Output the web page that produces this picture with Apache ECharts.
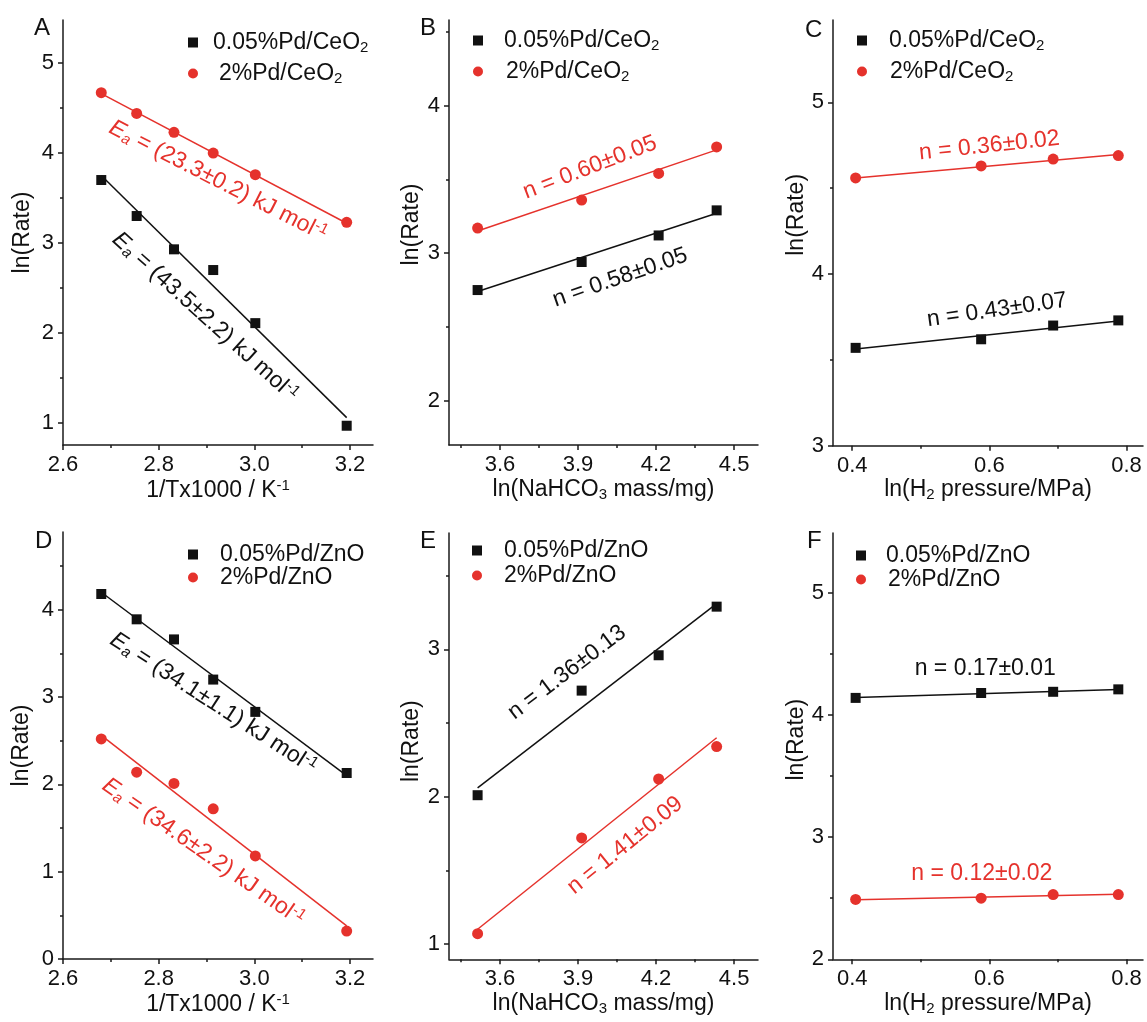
<!DOCTYPE html>
<html><head><meta charset="utf-8">
<script src="https://cdn.jsdelivr.net/npm/echarts@6/dist/echarts.min.js"></script>
<style>html,body{margin:0;padding:0;background:#fff}#c{width:1147px;height:1022px}</style>
</head><body><div id="c"></div>
<script>
// ---------------- DATA ----------------
const xInvT   = [2.680, 2.754, 2.832, 2.914, 3.002, 3.193];   // 1/T x 1000
const xNaHCO3 = [3.514, 3.914, 4.210, 4.433];                  // ln(NaHCO3 mass/mg)
const xH2     = [0.405, 0.588, 0.693, 0.788];                  // ln(H2 pressure/MPa)

const aBlack = [3.70, 3.30, 2.93, 2.70, 2.11, 0.97];
const aRed   = [4.67, 4.44, 4.23, 4.00, 3.76, 3.23];
const bBlack = [2.75, 2.94, 3.12, 3.29];
const bRed   = [3.17, 3.36, 3.54, 3.72];
const cBlack = [3.57, 3.62, 3.70, 3.73];
const cRed   = [4.56, 4.63, 4.67, 4.69];
const dBlack = [4.18, 3.89, 3.66, 3.20, 2.83, 2.13];
const dRed   = [2.52, 2.14, 2.01, 1.72, 1.18, 0.32];
const eBlack = [2.01, 2.72, 2.96, 3.29];
const eRed   = [1.07, 1.72, 2.12, 2.34];
const fBlack = [4.14, 4.18, 4.19, 4.21];
const fRed   = [2.49, 2.50, 2.53, 2.53];

// fitted lines: [y at first x, y at last x]
const aBlackFit = [3.75, 1.06], aRedFit = [4.66, 3.22];
const bBlackFit = [2.74, 3.27], bRedFit = [3.15, 3.70];
const cBlackFit = [3.563, 3.727], cRedFit = [4.559, 4.697];
const dBlackFit = [4.20, 2.10], dRedFit = [2.56, 0.38];
const eBlackFit = [2.06, 3.31], eRedFit = [1.10, 2.40];
const fBlackFit = [4.143, 4.208], fRedFit = [2.487, 2.533];

// tick labels
const xTicksInvT = [2.6, 2.8, 3.0, 3.2], xMinorInvT = [2.7, 2.9, 3.1];
const xTicksNa = [3.6, 3.9, 4.2, 4.5],   xMinorNa = [3.45, 3.75, 4.05, 4.35];
const xTicksH2 = [0.4, 0.6, 0.8],        xMinorH2 = [0.5, 0.7];
const yTicksA = [1, 2, 3, 4, 5], yMinorA = [1.5, 2.5, 3.5, 4.5];
const yTicksB = [2, 3, 4],       yMinorB = [2.5, 3.5, 4.5];
const yTicksC = [3, 4, 5],       yMinorC = [3.5, 4.5];
const yTicksD = [0, 1, 2, 3, 4], yMinorD = [0.5, 1.5, 2.5, 3.5, 4.5];
const yTicksE = [1, 2, 3],       yMinorE = [1.5, 2.5, 3.5];
const yTicksF = [2, 3, 4, 5],    yMinorF = [2.5, 3.5, 4.5];

const namesCe = ['0.05%Pd/CeO2', '2%Pd/CeO2'];
const namesZn = ['0.05%Pd/ZnO', '2%Pd/ZnO'];
const panelLetters = ['A', 'B', 'C', 'D', 'E', 'F'];

const annA = ['{ei|E}{si|a}{t| = (43.5±2.2) kJ mol}{sup|-1}', '{ei|E}{si|a}{t| = (23.3±0.2) kJ mol}{sup|-1}'];
const annB = ['{t|n = 0.58±0.05}', '{t|n = 0.60±0.05}'];
const annC = ['{t|n = 0.43±0.07}', '{t|n = 0.36±0.02}'];
const annD = ['{ei|E}{si|a}{t| = (34.1±1.1) kJ mol}{sup|-1}', '{ei|E}{si|a}{t| = (34.6±2.2) kJ mol}{sup|-1}'];
const annE = ['{t|n = 1.36±0.13}', '{t|n = 1.41±0.09}'];
const annF = ['{t|n = 0.17±0.01}', '{t|n = 0.12±0.02}'];

// ---------------- STYLE / LAYOUT ----------------
const FONT = '"Liberation Sans", Arial, sans-serif';
const BLACK = '#111111', RED = '#e5322c', AXIS = '#1a1a1a';

function makeRich(color) {
  return {
    t:   {fontFamily: FONT, fontSize: 23, lineHeight: 28, color: color},
    ei:  {fontFamily: FONT, fontSize: 23, lineHeight: 28, color: color, fontStyle: 'italic'},
    si:  {fontFamily: FONT, fontSize: 15, lineHeight: 18, padding: [10, 0, 0, 0], color: color, fontStyle: 'italic'},
    sub: {fontFamily: FONT, fontSize: 15, lineHeight: 18, padding: [10, 0, 0, 0], color: color},
    sup: {fontFamily: FONT, fontSize: 15, lineHeight: 18, padding: [0, 0, 10, 0], color: color}
  };
}

const panels = [
  {grid: {left: 63, top: 20, width: 310, height: 425}, xs: xInvT, black: aBlack, red: aRed, bf: aBlackFit, rf: aRedFit,
   x: {min: 2.6, max: 3.248, major: xTicksInvT, minor: xMinorInvT, name: '{t|1/Tx1000 / K}{sup|-1}', gap: 32},
   y: {min: 0.756, max: 5.478, major: yTicksA, minor: yMinorA, gap: 29, pad: 0},
   names: namesCe, leg: {left: 188, top: 30, gap: 6, sp: [10, 16]},
   ann: annA, annAt: [[2.897, 2.18], [2.924, 3.69]], annRot: [-42, -27], letter: [34, 16]},
  {grid: {left: 449, top: 20, width: 309, height: 425}, xs: xNaHCO3, black: bBlack, red: bRed, bf: bBlackFit, rf: bRedFit,
   x: {min: 3.404, max: 4.592, major: xTicksNa, minor: xMinorNa, name: '{t|ln(NaHCO}{sub|3}{t| mass/mg)}', gap: 31},
   y: {min: 1.70, max: 4.58, major: yTicksB, minor: yMinorB, gap: 26, pad: 16},
   names: namesCe, leg: {left: 473, top: 28, gap: 6, sp: [16, 18]},
   ann: annB, annAt: [[4.062, 2.834], [3.946, 3.58]], annRot: [19, 21], letter: [420, 16]},
  {grid: {left: 833, top: 20, width: 310, height: 425.7}, xs: xH2, black: cBlack, red: cRed, bf: cBlackFit, rf: cRedFit,
   x: {min: 0.372, max: 0.824, major: xTicksH2, minor: xMinorH2, name: '{t|ln(H}{sub|2}{t| pressure/MPa)}', gap: 28},
   y: {min: 3.0, max: 5.48, major: yTicksC, minor: yMinorC, gap: 22, pad: 36},
   names: namesCe, leg: {left: 857, top: 28, gap: 6, sp: [17, 18]},
   ann: annC, annAt: [[0.611, 3.79], [0.600, 4.747]], annRot: [8, 6], letter: [805, 18]},
  {grid: {left: 63, top: 532, width: 310, height: 427}, xs: xInvT, black: dBlack, red: dRed, bf: dBlackFit, rf: dRedFit,
   x: {min: 2.6, max: 3.248, major: xTicksInvT, minor: xMinorInvT, name: '{t|1/Tx1000 / K}{sup|-1}', gap: 32},
   y: {min: 0, max: 4.89, major: yTicksD, minor: yMinorD, gap: 30, pad: 0},
   names: namesZn, leg: {left: 188, top: 543, gap: 0, sp: [17, 17]},
   ann: annD, annAt: [[2.914, 2.93], [2.893, 1.226]], annRot: [-33, -35], letter: [35, 529]},
  {grid: {left: 449, top: 533, width: 309, height: 426.3}, xs: xNaHCO3, black: eBlack, red: eRed, bf: eBlackFit, rf: eRedFit,
   x: {min: 3.404, max: 4.592, major: xTicksNa, minor: xMinorNa, name: '{t|ln(NaHCO}{sub|3}{t| mass/mg)}', gap: 30},
   y: {min: 0.896, max: 3.79, major: yTicksE, minor: yMinorE, gap: 26, pad: 10},
   names: namesZn, leg: {left: 472, top: 539, gap: 2, sp: [17, 17]},
   ann: annE, annAt: [[3.858, 2.844], [4.081, 1.669]], annRot: [37, 39], letter: [420, 529]},
  {grid: {left: 833, top: 533, width: 310, height: 426.3}, xs: xH2, black: fBlack, red: fRed, bf: fBlackFit, rf: fRedFit,
   x: {min: 0.372, max: 0.824, major: xTicksH2, minor: xMinorH2, name: '{t|ln(H}{sub|2}{t| pressure/MPa)}', gap: 29},
   y: {min: 2.0, max: 5.49, major: yTicksF, minor: yMinorF, gap: 25, pad: 13},
   names: namesZn, leg: {left: 856, top: 544, gap: 1, sp: [15, 17]},
   ann: annF, annAt: [[0.594, 4.38], [0.589, 2.698]], annRot: [0, 0], letter: [807, 529]}
];

const grids = [], xAxes = [], yAxes = [], series = [], legends = [], graphics = [];
const lineSt = {color: AXIS, width: 1.5};

panels.forEach((p, i) => {
  grids.push(Object.assign({outerBoundsMode: 'none', containLabel: false}, p.grid));
  // major x
  xAxes.push({
    type: 'value', gridIndex: i, min: p.x.min, max: p.x.max, position: 'bottom',
    axisLine: {show: true, onZero: false, lineStyle: lineSt},
    axisTick: {show: true, inside: false, length: 5, customValues: p.x.major, lineStyle: lineSt},
    axisLabel: {show: true, customValues: p.x.major, margin: 9, fontFamily: FONT, fontSize: 22, color: BLACK,
                formatter: v => Number(v).toFixed(1), hideOverlap: false, showMinLabel: true, showMaxLabel: true},
    splitLine: {show: false},
    name: p.x.name, nameLocation: 'middle', nameGap: p.x.gap,
    nameTextStyle: {rich: makeRich(BLACK), fontSize: 23, fontFamily: FONT, color: BLACK}
  });
  // minor x
  xAxes.push({
    type: 'value', gridIndex: i, min: p.x.min, max: p.x.max, position: 'bottom',
    axisLine: {show: false, onZero: false},
    axisTick: {show: true, inside: false, length: 3, customValues: p.x.minor, lineStyle: lineSt},
    axisLabel: {show: false}, splitLine: {show: false}
  });
  yAxes.push({
    type: 'value', gridIndex: i, min: p.y.min, max: p.y.max, position: 'left',
    axisLine: {show: true, onZero: false, lineStyle: lineSt},
    axisTick: {show: true, inside: false, length: 5, customValues: p.y.major, lineStyle: lineSt},
    axisLabel: {show: true, customValues: p.y.major, margin: 9, fontFamily: FONT, fontSize: 22, color: BLACK,
                formatter: v => String(Math.round(v)), hideOverlap: false, showMinLabel: true, showMaxLabel: true},
    splitLine: {show: false},
    name: 'ln(Rate)', nameLocation: 'middle', nameGap: p.y.gap,
    nameTextStyle: {fontSize: 23, fontFamily: FONT, color: BLACK, padding: [0, 0, 0, p.y.pad]}
  });
  yAxes.push({
    type: 'value', gridIndex: i, min: p.y.min, max: p.y.max, position: 'left', offset: 0,
    axisLine: {show: false, onZero: false},
    axisTick: {show: true, inside: false, length: 3, customValues: p.y.minor, lineStyle: lineSt},
    axisLabel: {show: false}, splitLine: {show: false}
  });

  const xi = 2 * i, yi = 2 * i;
  const fitX = [p.xs[0], p.xs[p.xs.length - 1]];
  series.push({
    type: 'line', name: '_fitB' + i, xAxisIndex: xi, yAxisIndex: yi, showSymbol: false, symbol: 'none', silent: true, z: 2,
    data: [[fitX[0], p.bf[0]], [fitX[1], p.bf[1]]], lineStyle: {color: BLACK, width: 1.5}, itemStyle: {color: BLACK}
  });
  series.push({
    type: 'line', name: '_fitR' + i, xAxisIndex: xi, yAxisIndex: yi, showSymbol: false, symbol: 'none', silent: true, z: 2,
    data: [[fitX[0], p.rf[0]], [fitX[1], p.rf[1]]], lineStyle: {color: RED, width: 1.5}, itemStyle: {color: RED}
  });
  series.push({
    type: 'scatter', name: p.names[0], xAxisIndex: xi, yAxisIndex: yi, symbol: 'rect', symbolSize: 10, z: 3,
    data: p.xs.map((x, k) => [x, p.black[k]]), itemStyle: {color: BLACK, opacity: 1}
  });
  series.push({
    type: 'scatter', name: p.names[1], xAxisIndex: xi, yAxisIndex: yi, symbol: 'circle', symbolSize: 11, z: 3,
    data: p.xs.map((x, k) => [x, p.red[k]]), itemStyle: {color: RED, opacity: 1}
  });
  [0, 1].forEach(k => {
    const col = k === 0 ? BLACK : RED;
    series.push({
      type: 'scatter', name: '_ann' + i + k, xAxisIndex: xi, yAxisIndex: yi, symbolSize: 0, silent: true, z: 5,
      data: [p.annAt[k]], itemStyle: {color: col, opacity: 1},
      label: {show: true, position: 'inside', rotate: p.annRot[k], formatter: p.ann[k], rich: makeRich(col),
              align: 'center', verticalAlign: 'middle', color: col, opacity: 1, textBorderWidth: 0}
    });
  });

  const sp = p.leg.sp;
  legends.push({
    show: true, orient: 'vertical', left: p.leg.left, top: p.leg.top, itemWidth: 10, itemHeight: 10, itemGap: p.leg.gap,
    selectedMode: false, padding: 0,
    data: [{name: p.names[0], icon: 'rect'}, {name: p.names[1], icon: 'circle'}],
    formatter: function (name) {
      const k = name === p.names[0] ? 0 : 1;
      const spc = '{s' + k + '| }';
      if (/O2$/.test(name)) return spc + '{t|' + name.slice(0, -1) + '}{sub|2}';
      return spc + '{t|' + name + '}';
    },
    textStyle: {rich: Object.assign(makeRich(BLACK), {
      s0: {fontSize: 10, lineHeight: 28, width: sp[0]}, s1: {fontSize: 10, lineHeight: 28, width: sp[1]}
    })}
  });

  graphics.push({
    type: 'text', left: p.letter[0], top: p.letter[1], silent: true,
    style: {text: panelLetters[i], fontFamily: FONT, fontSize: 24, fill: BLACK}
  });
});

const chart = echarts.init(document.getElementById('c'), null, {renderer: 'canvas'});
chart.setOption({
  backgroundColor: '#ffffff',
  animation: false,
  grid: grids, xAxis: xAxes, yAxis: yAxes, series: series, legend: legends, graphic: graphics,
  tooltip: {show: false}
});
</script></body></html>
